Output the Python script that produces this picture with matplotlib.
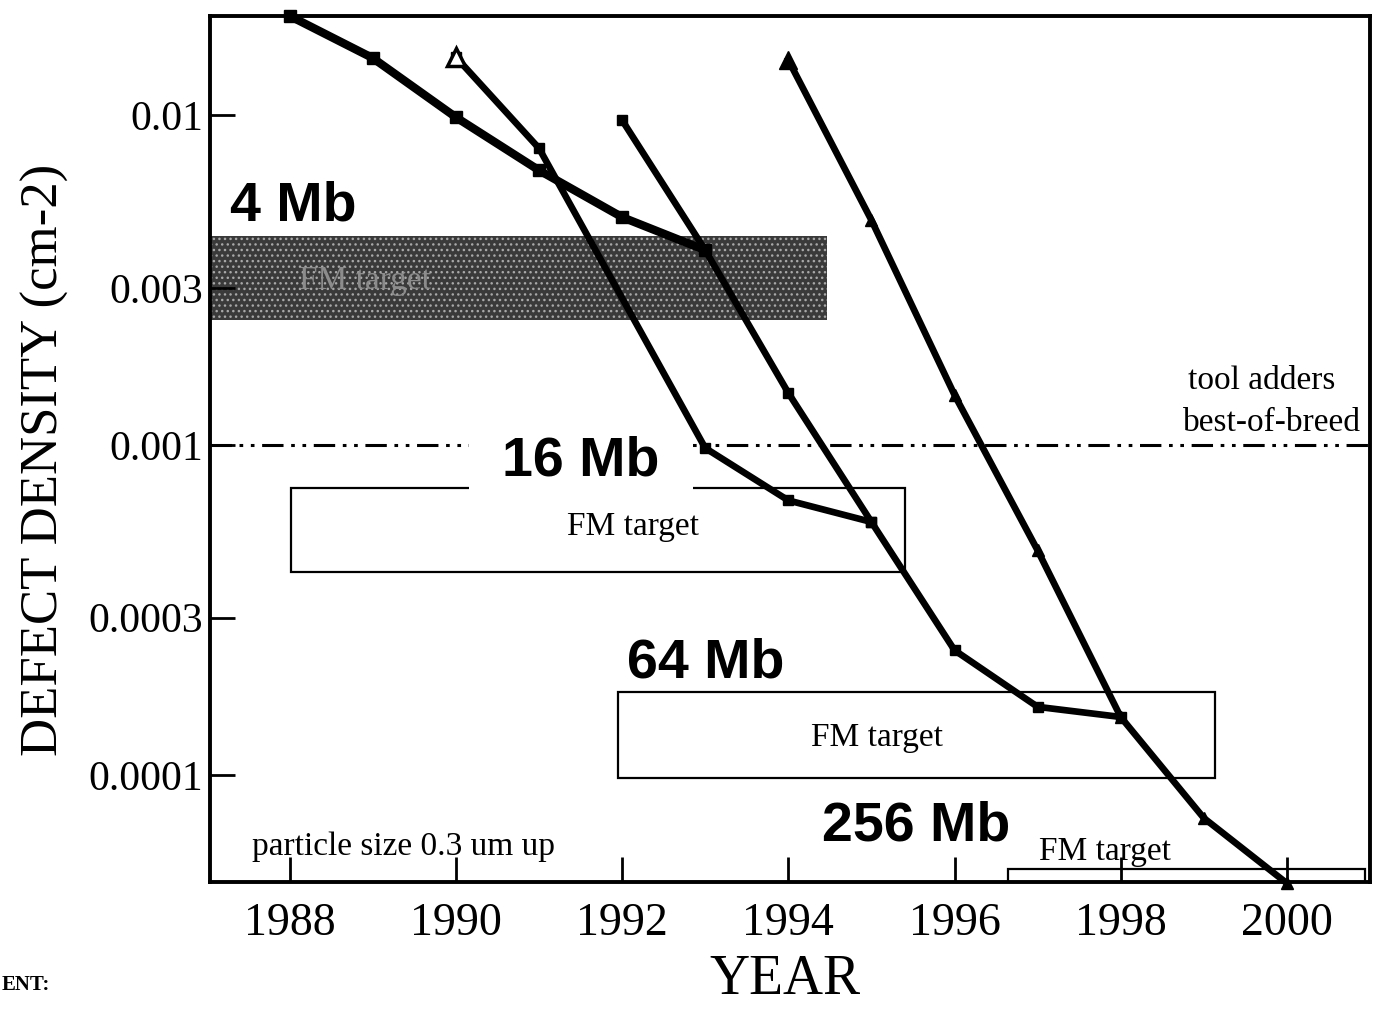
import matplotlib
matplotlib.use('Agg')

import matplotlib.pyplot as plt
from matplotlib.patches import Rectangle

SERIF = 'Liberation Serif'
SANS = 'Liberation Sans'

# defect density learning curves (defects per cm^2)
yrs_a = [1988, 1989, 1990, 1991, 1992, 1993]
dd_a = [0.0200, 0.0149, 0.00986, 0.00681, 0.00491, 0.0039]

yrs_b = [1990, 1991, 1993, 1994, 1995]
dd_b = [0.0150, 0.00794, 0.00098, 0.00068, 0.000585]

yrs_c = [1992, 1993, 1994, 1995, 1996, 1997, 1998]
dd_c = [0.00966, 0.0039, 0.00144, 0.000585, 0.000239, 0.000161, 0.00015]

yrs_d = [1994, 1995, 1996, 1997, 1998, 1999, 2000]
dd_d = [0.0147, 0.00481, 0.00142, 0.00048, 0.00015, 0.0000741, 0.0000470]

# FM target windows per generation
generations = ['4 Mb', '16 Mb', '64 Mb', '256 Mb']
fm_start = [1987.0, 1988.02, 1991.95, 1996.64]
fm_end = [1994.46, 1995.40, 1999.13, 2000.94]
fm_low = [0.0024, 0.000412, 0.000098, 0.00004]
fm_high = [0.0043, 0.000741, 0.000179, 0.000052]

tool_adders = 0.001

year_ticks = [1988, 1990, 1992, 1994, 1996, 1998, 2000]
dd_ticks = [0.01, 0.003, 0.001, 0.0003, 0.0001]
dd_labels = ['0.01', '0.003', '0.001', '0.0003', '0.0001']

fig = plt.figure(figsize=(13.77, 10.10), dpi=100)
ax = fig.add_axes([0.1525, 0.1267, 0.8424, 0.8575])
ax.set_yscale('log')
ax.set_xlim(1987.04, 2001.0)
ax.set_ylim(4.74e-5, 0.02)

# target boxes
for i in range(len(generations)):
    w = fm_end[i] - fm_start[i]
    h = fm_high[i] - fm_low[i]
    if i == 0:
        r = Rectangle((fm_start[i], fm_low[i]), w, h, facecolor='#3a3a3a',
                      edgecolor='#a8a8a8', hatch='...', linewidth=0, zorder=1)
    else:
        r = Rectangle((fm_start[i], fm_low[i]), w, h, facecolor='none',
                      edgecolor='black', linewidth=1.6, zorder=1)
    ax.add_patch(r)

ax.text(1988.9, 0.00316, 'FM target', family=SERIF, fontsize=24,
        color='#8c8c8c', ha='center', va='center', zorder=1.5)
ax.text(1992.13, 0.000565, 'FM target', family=SERIF, fontsize=24,
        ha='center', va='center')
ax.text(1995.07, 0.000130, 'FM target', family=SERIF, fontsize=24,
        ha='center', va='center')
ax.text(1997.81, 0.0000585, 'FM target', family=SERIF, fontsize=24,
        ha='center', va='center')

# tool adders reference line
ax.axhline(tool_adders, color='black', linewidth=2.2,
           dashes=(7, 2.5, 1.2, 2.5, 1.2, 2.5), zorder=2)
ax.text(1999.70, 0.00157, 'tool adders', family=SERIF, fontsize=24,
        ha='center', va='center')
ax.text(1999.82, 0.00117, 'best-of-breed', family=SERIF, fontsize=24,
        ha='center', va='center')

# generation labels
label_pos = [(1987.28, 0.00481), (1990.56, 0.000811),
             (1992.06, 0.000198), (1994.40, 0.0000635)]
for name, (lx, ly) in zip(generations, label_pos):
    t = ax.text(lx, ly, name, family=SANS, fontweight='bold', fontsize=40,
                ha='left', va='baseline', zorder=2.5)
    if name == '16 Mb':
        t.set_bbox(dict(facecolor='white', edgecolor='none', pad=24))

ax.text(1987.54, 0.0000605, 'particle size 0.3 um up', family=SERIF,
        fontsize=24, ha='left', va='center')

# curves
ax.plot(yrs_a, dd_a, color='black', linewidth=6, marker='s', markersize=8,
        zorder=3, clip_on=False)
ax.plot(yrs_b, dd_b, color='black', linewidth=4.8, marker='s', markersize=7,
        zorder=3)
ax.plot(yrs_b[:1], dd_b[:1], linestyle='none', marker='^', markersize=13,
        markerfacecolor='white', markeredgecolor='black', markeredgewidth=2.5,
        zorder=4)
ax.plot(yrs_c, dd_c, color='black', linewidth=4.8, marker='s', markersize=7,
        zorder=3)
ax.plot(yrs_d, dd_d, color='black', linewidth=4.8, marker='^', markersize=8,
        zorder=3, clip_on=False)
ax.plot(yrs_d[:1], dd_d[:1], linestyle='none', marker='^', markersize=13,
        color='black', zorder=4)

# axes styling
for s in ax.spines.values():
    s.set_linewidth(2.8)
ax.set_xticks(year_ticks)
ax.set_xticklabels([str(y) for y in year_ticks], family=SERIF, fontsize=33)
ax.set_yticks(dd_ticks)
ax.set_yticklabels(dd_labels, family=SERIF, fontsize=30)
ax.minorticks_off()
ax.tick_params(axis='both', direction='in', length=18, width=2,
               top=False, right=False)
ax.tick_params(axis='x', pad=15)
ax.tick_params(axis='y', pad=5)

fig.text(45 / 1377, 1 - 460 / 1010, 'DEFECT DENSITY (cm-2)', family=SERIF,
         fontsize=38, rotation=90, ha='center', va='center')
fig.text(785 / 1377, 1 - 980 / 1010, 'YEAR', family=SERIF, fontsize=40,
         ha='center', va='center')
fig.text(0.001, 1 - 985 / 1010, 'ENT:', family=SERIF, fontweight='bold',
         fontsize=15, ha='left', va='center')

fig.savefig('out.png', dpi=100)
